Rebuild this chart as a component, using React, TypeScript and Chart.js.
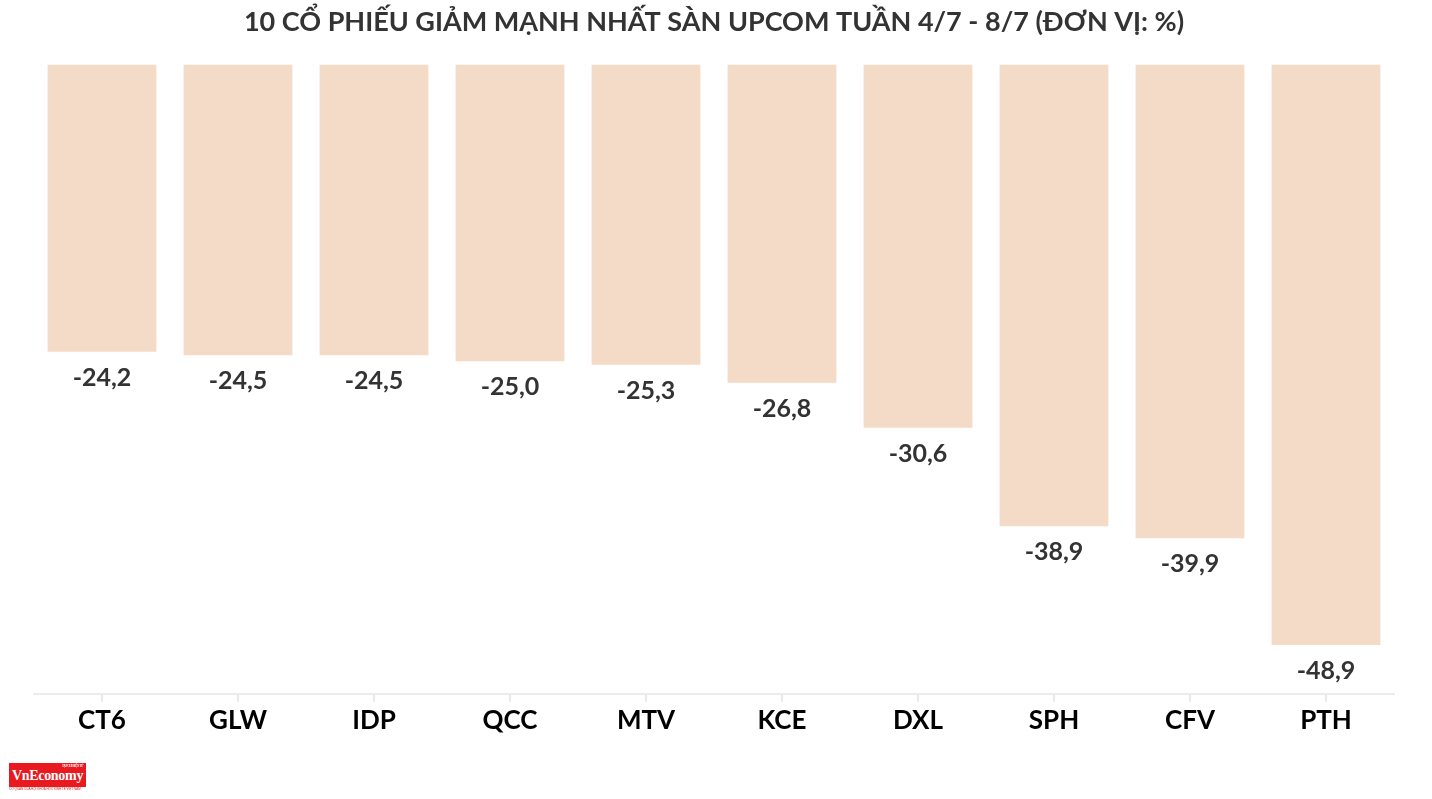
import React, { useEffect, useRef } from "react";
import { Chart, registerables } from "chart.js";

Chart.register(...registerables);

const TITLE = "10 CỔ PHIẾU GIẢM MẠNH NHẤT SÀN UPCOM TUẦN 4/7 - 8/7 (ĐƠN VỊ: %)";
const categories = ["CT6", "GLW", "IDP", "QCC", "MTV", "KCE", "DXL", "SPH", "CFV", "PTH"];
const values = [-24.2, -24.5, -24.5, -25.0, -25.3, -26.8, -30.6, -38.9, -39.9, -48.9];

const FONT = "Lato, 'Noto Sans', sans-serif";

const valueLabels = {
  id: "valueLabels",
  afterDatasetsDraw(chart: any) {
    const ctx = chart.ctx;
    const meta = chart.getDatasetMeta(0);
    ctx.save();
    ctx.font = `bold 25px ${FONT}`;
    ctx.fillStyle = "#333333";
    ctx.textAlign = "center";
    ctx.textBaseline = "middle";
    meta.data.forEach((bar: any, i: number) => {
      const v = values[i];
      const txt = v.toFixed(1).replace(".", ",");
      ctx.fillText(txt, bar.x, bar.y + 26);
    });
    ctx.restore();
  },
};

export default function App() {
  const ref = useRef<HTMLCanvasElement>(null);
  useEffect(() => {
    document.body.style.margin = "0";
    const chart = new Chart(ref.current!, {
      type: "bar",
      data: {
        labels: categories,
        datasets: [
          {
            data: values,
            backgroundColor: "#f3dbc8",
            borderWidth: 0,
            categoryPercentage: 0.8,
            barPercentage: 1,
          },
        ],
      },
      options: {
        animation: false,
        responsive: false,
        maintainAspectRatio: false,
        layout: { padding: { left: 34, right: 38, bottom: 60 } },
        plugins: {
          legend: { display: false },
          tooltip: { enabled: false },
          title: {
            display: true,
            text: TITLE,
            color: "#333333",
            font: { family: FONT, size: 27, weight: "bold" },
            padding: { top: 6, bottom: 26 },
          },
        },
        scales: {
          x: {
            grid: {
              display: true,
              drawOnChartArea: false,
              drawTicks: true,
              tickLength: 8,
              offset: false,
              color: "#e8e8e8",
              lineWidth: 2,
            },
            border: { display: true, color: "#ececec", width: 2 },
            ticks: {
              color: "#000000",
              font: { family: FONT, size: 26, weight: "bold" },
              padding: 3,
            },
          },
          y: {
            display: false,
            min: -53,
            max: 0,
          },
        },
      },
      plugins: [valueLabels],
    });
    return () => chart.destroy();
  }, []);

  return (
    <div style={{ position: "relative", width: 1432, height: 799, background: "#fff" }}>
      <canvas ref={ref} width={1432} height={799} style={{ display: "block" }} />
      <div
        style={{
          position: "absolute",
          left: 9,
          top: 763,
          width: 77,
          height: 24,
          background: "#e8191f",
          color: "#fff",
          fontFamily: "'Liberation Serif', 'DejaVu Serif', serif",
          fontWeight: "bold",
          fontSize: 14,
          lineHeight: "26px",
          textAlign: "center",
          letterSpacing: -0.3,
        }}
      >
        VnEconomy
        <div style={{ position: "absolute", right: 3, top: 1, fontSize: 3, lineHeight: "4px", color: "#fff" }}>
          TẠP CHÍ ĐIỆN TỬ
        </div>
      </div>
      <div
        style={{
          position: "absolute",
          left: 9,
          top: 787,
          width: 77,
          fontSize: 3,
          lineHeight: "4px",
          color: "#e8191f",
          fontFamily: "sans-serif",
          whiteSpace: "nowrap",
          overflow: "hidden",
        }}
      >
        CƠ QUAN CỦA HỘI KHOA HỌC KINH TẾ VIỆT NAM
      </div>
    </div>
  );
}
